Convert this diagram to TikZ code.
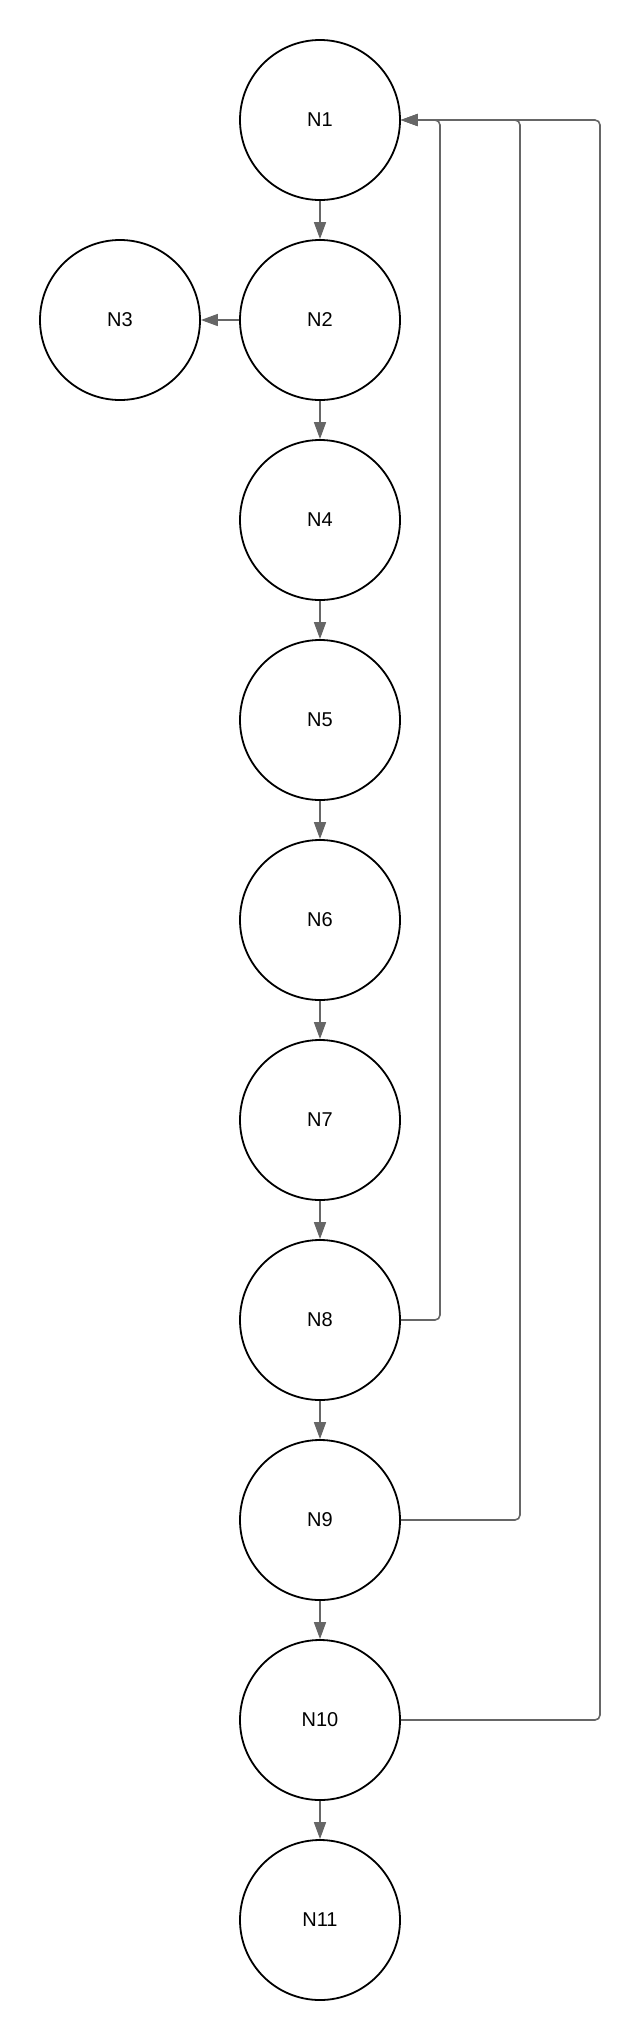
\documentclass[tikz,border=0pt]{standalone}
\usepackage{fontspec}
\setmainfont{Liberation Sans}
\usetikzlibrary{arrows.meta}
\begin{document}
\begin{tikzpicture}[x=1pt,y=-1pt,
  nd/.style={circle,draw=black,line width=1.8pt,minimum size=160pt,inner sep=0pt,fill=white,font=\fontsize{20}{22}\selectfont},
  cn/.style={draw=black!60,line width=1.6pt,-{Triangle[length=17pt,width=12pt]}},
  back/.style={cn,rounded corners=5pt}]
\useasboundingbox[fill=white] (0,0) rectangle (640,2040);
\node[nd] (n1) at (320,120) {N1};
\node[nd] (n2) at (320,320) {N2};
\node[nd] (n3) at (120,320) {N3};
\node[nd] (n4) at (320,520) {N4};
\node[nd] (n5) at (320,720) {N5};
\node[nd] (n6) at (320,920) {N6};
\node[nd] (n7) at (320,1120) {N7};
\node[nd] (n8) at (320,1320) {N8};
\node[nd] (n9) at (320,1520) {N9};
\node[nd] (n10) at (320,1720) {N10};
\node[nd] (n11) at (320,1920) {N11};
\draw[cn] (n1) -- (n2);
\draw[cn] (n2) -- (n3);
\draw[cn] (n2) -- (n4);
\draw[cn] (n4) -- (n5);
\draw[cn] (n5) -- (n6);
\draw[cn] (n6) -- (n7);
\draw[cn] (n7) -- (n8);
\draw[cn] (n8) -- (n9);
\draw[cn] (n9) -- (n10);
\draw[cn] (n10) -- (n11);
\draw[back] (n8.east) -| (440,120) -- (n1.east);
\draw[back] (n9.east) -| (520,120) -- (n1.east);
\draw[back] (n10.east) -| (600,120) -- (n1.east);
\end{tikzpicture}
\end{document}
